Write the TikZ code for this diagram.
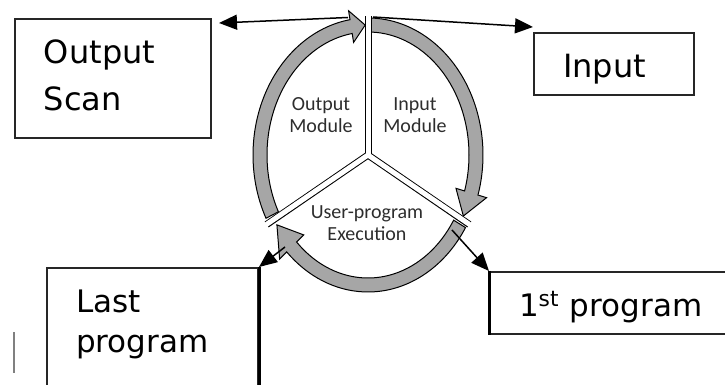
\documentclass[tikz,border=0pt]{standalone}
\usepackage{fontspec}
\setmainfont{DejaVu Sans}
\newfontfamily\carlito{Carlito}
\usetikzlibrary{arrows.meta}
\definecolor{ringgray}{RGB}{166,166,166}
\definecolor{labelgray}{RGB}{45,45,45}

\begin{document}
\begin{tikzpicture}[x=0.5pt, y=0.5pt,
    box/.style={draw=black!85, line width=1pt, inner xsep=14.5pt, align=left},
    ring/.style={draw=black, line width=0.5pt, fill=ringgray},
    lbl/.style={font=\carlito\fontsize{10}{11}\selectfont, text=labelgray, align=center, inner sep=0pt},
    conn/.style={line width=0.75pt, -{Triangle[length=9pt, width=7.5pt]}}]
    \path[use as bounding box, clip] (0,0) rectangle (725,385);

    % Cycle ring
    \begin{scope}[shift={(368,230)}]
        % Input Module
        \draw[ring] (88.5:115 and 137) arc[start angle=88.5, end angle=-17, x radius=115, y radius=137]
            -- (-17:124 and 146) -- (-28:108 and 130) -- (-17:92 and 114) -- (-17:101 and 123)
            arc[start angle=-17, end angle=88.5, x radius=101, y radius=123] -- cycle;
        % User-program Execution
        \draw[ring] (328:115 and 137) arc[start angle=328, end angle=225, x radius=115, y radius=137]
            -- (225:125 and 147) -- (212.5:108 and 130) -- (225:91 and 113) -- (225:101 and 123)
            arc[start angle=225, end angle=328, x radius=101, y radius=123] -- cycle;
        % Output Module
        \draw[ring] (207.5:115 and 137) arc[start angle=207.5, end angle=99, x radius=115, y radius=137]
            -- (99:124 and 146) -- (91.5:108 and 130) -- (99:92 and 114) -- (99:101 and 123)
            arc[start angle=99, end angle=207.5, x radius=101, y radius=123] -- cycle;

        % Dividers
        \foreach \a in {90,-30,210}
            \draw[line width=3.5pt] (0,0) -- (\a:117 and 139);
        \foreach \a in {90,-30,210}
            \draw[white, line width=2.5pt] (0,0) -- (\a:119 and 141);
    \end{scope}

    % Ring labels
    \node[lbl] (outmod) at (321,270) {Output\\Module};
    \node[lbl] (inmod) at (415,270) {Input\\Module};
    \node[lbl] (exec) at (367,162) {User-program\\Execution};

    % Boxes
    \node[box, text width=69pt, minimum height=59.5pt, text height=12pt, text depth=27pt,
        font=\fontsize{16}{23.5}\selectfont] (outscan) at (113,306.5) {Output\\Scan};
    \node[box, text width=51pt, minimum height=31pt, text height=17pt, text depth=3pt,
        font=\fontsize{16}{19}\selectfont] (inbox) at (614,321) {Input};
    \node[box, anchor=north west, text width=76.5pt, inner ysep=11pt, text height=11.5pt, text depth=50pt,
        font=\fontsize{15.5}{20}\selectfont] (lastbox) at (46,118) {Last\\program};
    \node[box, text width=98.5pt, minimum height=31pt, text height=17pt, text depth=3pt,
        font=\fontsize{15.5}{19}\selectfont] (firstbox) at (617.5,82) {1\textsuperscript{st} program};
    \draw[line width=1.5pt] (lastbox.north east) -- (lastbox.south east);
    \draw[line width=1.5pt] (firstbox.north west) -- (firstbox.south west);
    \draw[gray, line width=0.6pt] (14,12) -- (14,53);

    % Connectors
    \coordinate (outtip) at (348,367.5);
    \coordinate (intop) at (373,368);
    \coordinate (execleft) at (285,138);
    \coordinate (execright) at (452,155);
    \draw[conn] (outtip) -- ([shift={(7,-5)}]outscan.north east);
    \draw[conn] (intop) -- ([yshift=2.5pt]inbox.north west);
    \draw[conn] (execleft) -- (lastbox.north east);
    \draw[conn] (execright) -- (firstbox.north west);
\end{tikzpicture}
\end{document}
